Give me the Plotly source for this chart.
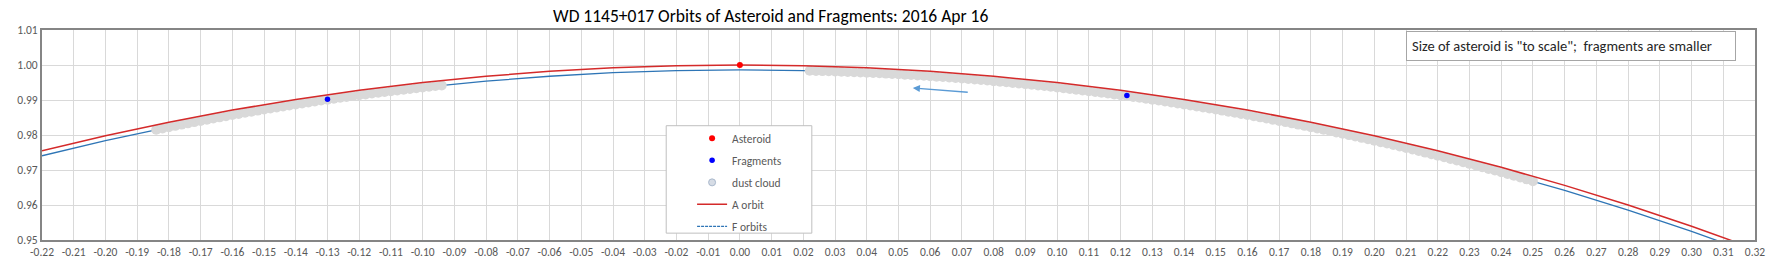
import plotly.graph_objects as go

# ---------------- data ----------------
orbit_x = [-0.22, -0.20, -0.18, -0.16, -0.14, -0.12, -0.10, -0.08, -0.06, -0.04, -0.02,
           0.00, 0.02, 0.04, 0.06, 0.08, 0.10, 0.12, 0.14, 0.16, 0.18, 0.20, 0.22,
           0.24, 0.26, 0.28, 0.30, 0.32]
a_orbit_y = [0.97550, 0.97980, 0.98367, 0.98712, 0.99015, 0.99277, 0.99499, 0.99679,
             0.99820, 0.99920, 0.99980, 1.00000, 0.99980, 0.99920, 0.99820, 0.99679,
             0.99499, 0.99277, 0.99015, 0.98712, 0.98367, 0.97980, 0.97550, 0.97077,
             0.96561, 0.96000, 0.95394, 0.94742]
f_orbit_y = [0.97406, 0.97837, 0.98224, 0.98570, 0.98874, 0.99136, 0.99358, 0.99539,
             0.99679, 0.99780, 0.99840, 0.99860, 0.99840, 0.99780, 0.99679, 0.99539,
             0.99358, 0.99136, 0.98874, 0.98570, 0.98224, 0.97837, 0.97406, 0.96933,
             0.96416, 0.95854, 0.95247, 0.94594]

asteroid_x = [0.000]
asteroid_y = [1.0000]

fragments_x = [-0.130, 0.122]
fragments_y = [0.99018, 0.99127]

dust_x = [
    -0.184, -0.182, -0.180, -0.178, -0.176, -0.174, -0.172, -0.170, -0.168, -0.166,
    -0.164, -0.162, -0.160, -0.158, -0.156, -0.154, -0.152, -0.150, -0.148, -0.146,
    -0.144, -0.142, -0.140, -0.138, -0.136, -0.134, -0.132, -0.130, -0.128, -0.126,
    -0.124, -0.122, -0.120, -0.118, -0.116, -0.114, -0.112, -0.110, -0.108, -0.106,
    -0.104, -0.102, -0.100, -0.098, -0.096, -0.094,
    None,
    0.022, 0.024, 0.026, 0.028, 0.030, 0.032, 0.034, 0.036, 0.038, 0.040,
    0.042, 0.044, 0.046, 0.048, 0.050, 0.052, 0.054, 0.056, 0.058, 0.060,
    0.062, 0.064, 0.066, 0.068, 0.070, 0.072, 0.074, 0.076, 0.078, 0.080,
    0.082, 0.084, 0.086, 0.088, 0.090, 0.092, 0.094, 0.096, 0.098, 0.100,
    0.102, 0.104, 0.106, 0.108, 0.110, 0.112, 0.114, 0.116, 0.118, 0.120,
    0.122, 0.124, 0.126, 0.128, 0.130, 0.132, 0.134, 0.136, 0.138, 0.140,
    0.142, 0.144, 0.146, 0.148, 0.150, 0.152, 0.154, 0.156, 0.158, 0.160,
    0.162, 0.164, 0.166, 0.168, 0.170, 0.172, 0.174, 0.176, 0.178, 0.180,
    0.182, 0.184, 0.186, 0.188, 0.190, 0.192, 0.194, 0.196, 0.198, 0.200,
    0.202, 0.204, 0.206, 0.208, 0.210, 0.212, 0.214, 0.216, 0.218, 0.220,
    0.222, 0.224, 0.226, 0.228, 0.230, 0.232, 0.234, 0.236, 0.238, 0.240,
    0.242, 0.244, 0.246, 0.248, 0.250,
]
dust_y = [
    0.98150, 0.98188, 0.98224, 0.98261, 0.98297, 0.98333, 0.98368, 0.98402, 0.98437, 0.98471,
    0.98504, 0.98537, 0.98570, 0.98602, 0.98634, 0.98665, 0.98697, 0.98727, 0.98757, 0.98787,
    0.98816, 0.98845, 0.98874, 0.98902, 0.98930, 0.98957, 0.98984, 0.99010, 0.99036, 0.99062,
    0.99087, 0.99112, 0.99136, 0.99160, 0.99184, 0.99207, 0.99230, 0.99252, 0.99274, 0.99296,
    0.99317, 0.99338, 0.99358, 0.99378, 0.99398, 0.99417,
    None,
    0.99836, 0.99831, 0.99826, 0.99821, 0.99815, 0.99809, 0.99802, 0.99795, 0.99788, 0.99780,
    0.99772, 0.99763, 0.99754, 0.99745, 0.99735, 0.99725, 0.99714, 0.99703, 0.99692, 0.99680,
    0.99667, 0.99655, 0.99642, 0.99628, 0.99614, 0.99600, 0.99585, 0.99570, 0.99555, 0.99539,
    0.99523, 0.99506, 0.99489, 0.99471, 0.99454, 0.99435, 0.99417, 0.99398, 0.99378, 0.99358,
    0.99338, 0.99317, 0.99296, 0.99274, 0.99252, 0.99230, 0.99207, 0.99184, 0.99160, 0.99136,
    0.99112, 0.99087, 0.99062, 0.99036, 0.99010, 0.98984, 0.98957, 0.98930, 0.98902, 0.98874,
    0.98845, 0.98816, 0.98787, 0.98757, 0.98727, 0.98697, 0.98665, 0.98634, 0.98602, 0.98570,
    0.98537, 0.98504, 0.98471, 0.98437, 0.98402, 0.98368, 0.98333, 0.98297, 0.98261, 0.98224,
    0.98188, 0.98150, 0.98113, 0.98075, 0.98036, 0.97997, 0.97958, 0.97918, 0.97878, 0.97837,
    0.97796, 0.97755, 0.97713, 0.97670, 0.97627, 0.97584, 0.97541, 0.97497, 0.97452, 0.97407,
    0.97362, 0.97316, 0.97270, 0.97223, 0.97176, 0.97129, 0.97081, 0.97032, 0.96984, 0.96934,
    0.96885, 0.96835, 0.96784, 0.96733, 0.96682,
]

# direction-of-motion arrow (tail -> head)
arrow_tail = (0.0723, 0.99218)
arrow_head = (0.0545, 0.99345)

x_tickvals = [-0.22, -0.21, -0.20, -0.19, -0.18, -0.17, -0.16, -0.15, -0.14, -0.13, -0.12,
              -0.11, -0.10, -0.09, -0.08, -0.07, -0.06, -0.05, -0.04, -0.03, -0.02, -0.01,
              0.00, 0.01, 0.02, 0.03, 0.04, 0.05, 0.06, 0.07, 0.08, 0.09, 0.10, 0.11,
              0.12, 0.13, 0.14, 0.15, 0.16, 0.17, 0.18, 0.19, 0.20, 0.21, 0.22, 0.23,
              0.24, 0.25, 0.26, 0.27, 0.28, 0.29, 0.30, 0.31, 0.32]
x_ticktext = ["-0.22", "-0.21", "-0.20", "-0.19", "-0.18", "-0.17", "-0.16", "-0.15",
              "-0.14", "-0.13", "-0.12", "-0.11", "-0.10", "-0.09", "-0.08", "-0.07",
              "-0.06", "-0.05", "-0.04", "-0.03", "-0.02", "-0.01", "0.00", "0.01",
              "0.02", "0.03", "0.04", "0.05", "0.06", "0.07", "0.08", "0.09", "0.10",
              "0.11", "0.12", "0.13", "0.14", "0.15", "0.16", "0.17", "0.18", "0.19",
              "0.20", "0.21", "0.22", "0.23", "0.24", "0.25", "0.26", "0.27", "0.28",
              "0.29", "0.30", "0.31", "0.32"]
y_tickvals = [0.95, 0.96, 0.97, 0.98, 0.99, 1.00, 1.01]
y_ticktext = ["0.95", "0.96", "0.97", "0.98", "0.99", "1.00", "1.01"]

title_text = "WD 1145+017 Orbits of Asteroid and Fragments: 2016 Apr 16"
note_text = 'Size of asteroid is "to scale";  fragments are smaller'

# ---------------- styles ----------------
FONT = "Carlito, Lato, 'Open Sans', sans-serif"
RED = "#d42a2a"
BLUE = "#2e75b6"

fig = go.Figure()

# F orbit line (drawn underneath the dust)
fig.add_trace(go.Scatter(x=orbit_x, y=f_orbit_y, mode="lines", name="F orbits",
                         line=dict(color=BLUE, width=1.3), showlegend=False,
                         legendgroup="g5"))
# dust cloud
fig.add_trace(go.Scatter(x=dust_x, y=dust_y, mode="markers", name="dust cloud",
                         marker=dict(color="#d9d9d9", size=10, line=dict(width=0)),
                         showlegend=False, legendgroup="g3"))
# A orbit
fig.add_trace(go.Scatter(x=orbit_x, y=a_orbit_y, mode="lines", name="A orbit",
                         line=dict(color=RED, width=1.5), legendrank=4,
                         legendgroup="g4"))
# asteroid
fig.add_trace(go.Scatter(x=asteroid_x, y=asteroid_y, mode="markers", name="Asteroid",
                         marker=dict(color="#ff0000", size=6), legendrank=1,
                         legendgroup="g1"))
# fragments
fig.add_trace(go.Scatter(x=fragments_x, y=fragments_y, mode="markers", name="Fragments",
                         marker=dict(color="#0000ff", size=5.5), legendrank=2,
                         legendgroup="g2"))
# legend-only entries
fig.add_trace(go.Scatter(x=[None], y=[None], mode="markers", name="dust cloud",
                         marker=dict(color="#d6dce5", size=7,
                                     line=dict(color="#a9b8cc", width=1)),
                         legendrank=3, legendgroup="g3"))
fig.add_trace(go.Scatter(x=[None], y=[None], mode="lines", name="F orbits",
                         line=dict(color=BLUE, width=1.2, dash="3px,1px"),
                         legendrank=5, legendgroup="g5"))

fig.add_annotation(x=arrow_head[0], y=arrow_head[1], ax=arrow_tail[0], ay=arrow_tail[1],
                   xref="x", yref="y", axref="x", ayref="y", text="", showarrow=True,
                   arrowhead=2, arrowsize=1.1, arrowwidth=1.3, arrowcolor="#5b9bd5",
                   standoff=0, startstandoff=0)

fig.add_annotation(x=0.7965, y=0.997, xref="paper", yref="paper", xanchor="left",
                   yanchor="top", text=note_text, showarrow=False, align="left",
                   width=318, borderpad=5, bordercolor="#a6a6a6", borderwidth=1,
                   bgcolor="white", font=dict(family=FONT, size=14.5, color="#262626"))

# legend frame (drawn as a box behind the transparent legend)
fig.add_shape(type="rect", xref="paper", yref="paper",
              x0=0.3644, x1=0.4494, y0=0.0326, y1=0.5442, layer="above",
              fillcolor="white", line=dict(color="#bfbfbf", width=1))

fig.update_layout(
    width=1777, height=271,
    margin=dict(l=42, r=17, t=30, b=26),
    paper_bgcolor="white", plot_bgcolor="white",
    font=dict(family=FONT, color="#595959"),
    title=dict(text=title_text, x=0.4254, xref="paper", y=0.94, yref="container",
               xanchor="center", yanchor="middle",
               font=dict(family=FONT, size=17.5, color="#000000")),
    showlegend=True,
    legend=dict(x=0.3795, y=0.553, xanchor="left", yanchor="top",
                bgcolor="rgba(0,0,0,0)", borderwidth=0,
                font=dict(family=FONT, size=11.5, color="#595959"),
                traceorder="grouped", tracegroupgap=3, itemwidth=30,
                itemclick=False, itemdoubleclick=False),
    xaxis=dict(range=[-0.22, 0.32], tickvals=x_tickvals, ticktext=x_ticktext,
               showgrid=True, gridcolor="#d9d9d9", gridwidth=1, zeroline=False,
               showline=True, linecolor="#858585", linewidth=2, mirror=True,
               tickfont=dict(family=FONT, size=11.5, color="#595959"), ticks=""),
    yaxis=dict(range=[0.95, 1.01], tickvals=y_tickvals, ticktext=y_ticktext,
               showgrid=True, gridcolor="#d9d9d9", gridwidth=1, zeroline=False,
               showline=True, linecolor="#858585", linewidth=2, mirror=True,
               tickfont=dict(family=FONT, size=11.5, color="#595959"), ticks=""),
)

fig.write_html("out.html")
